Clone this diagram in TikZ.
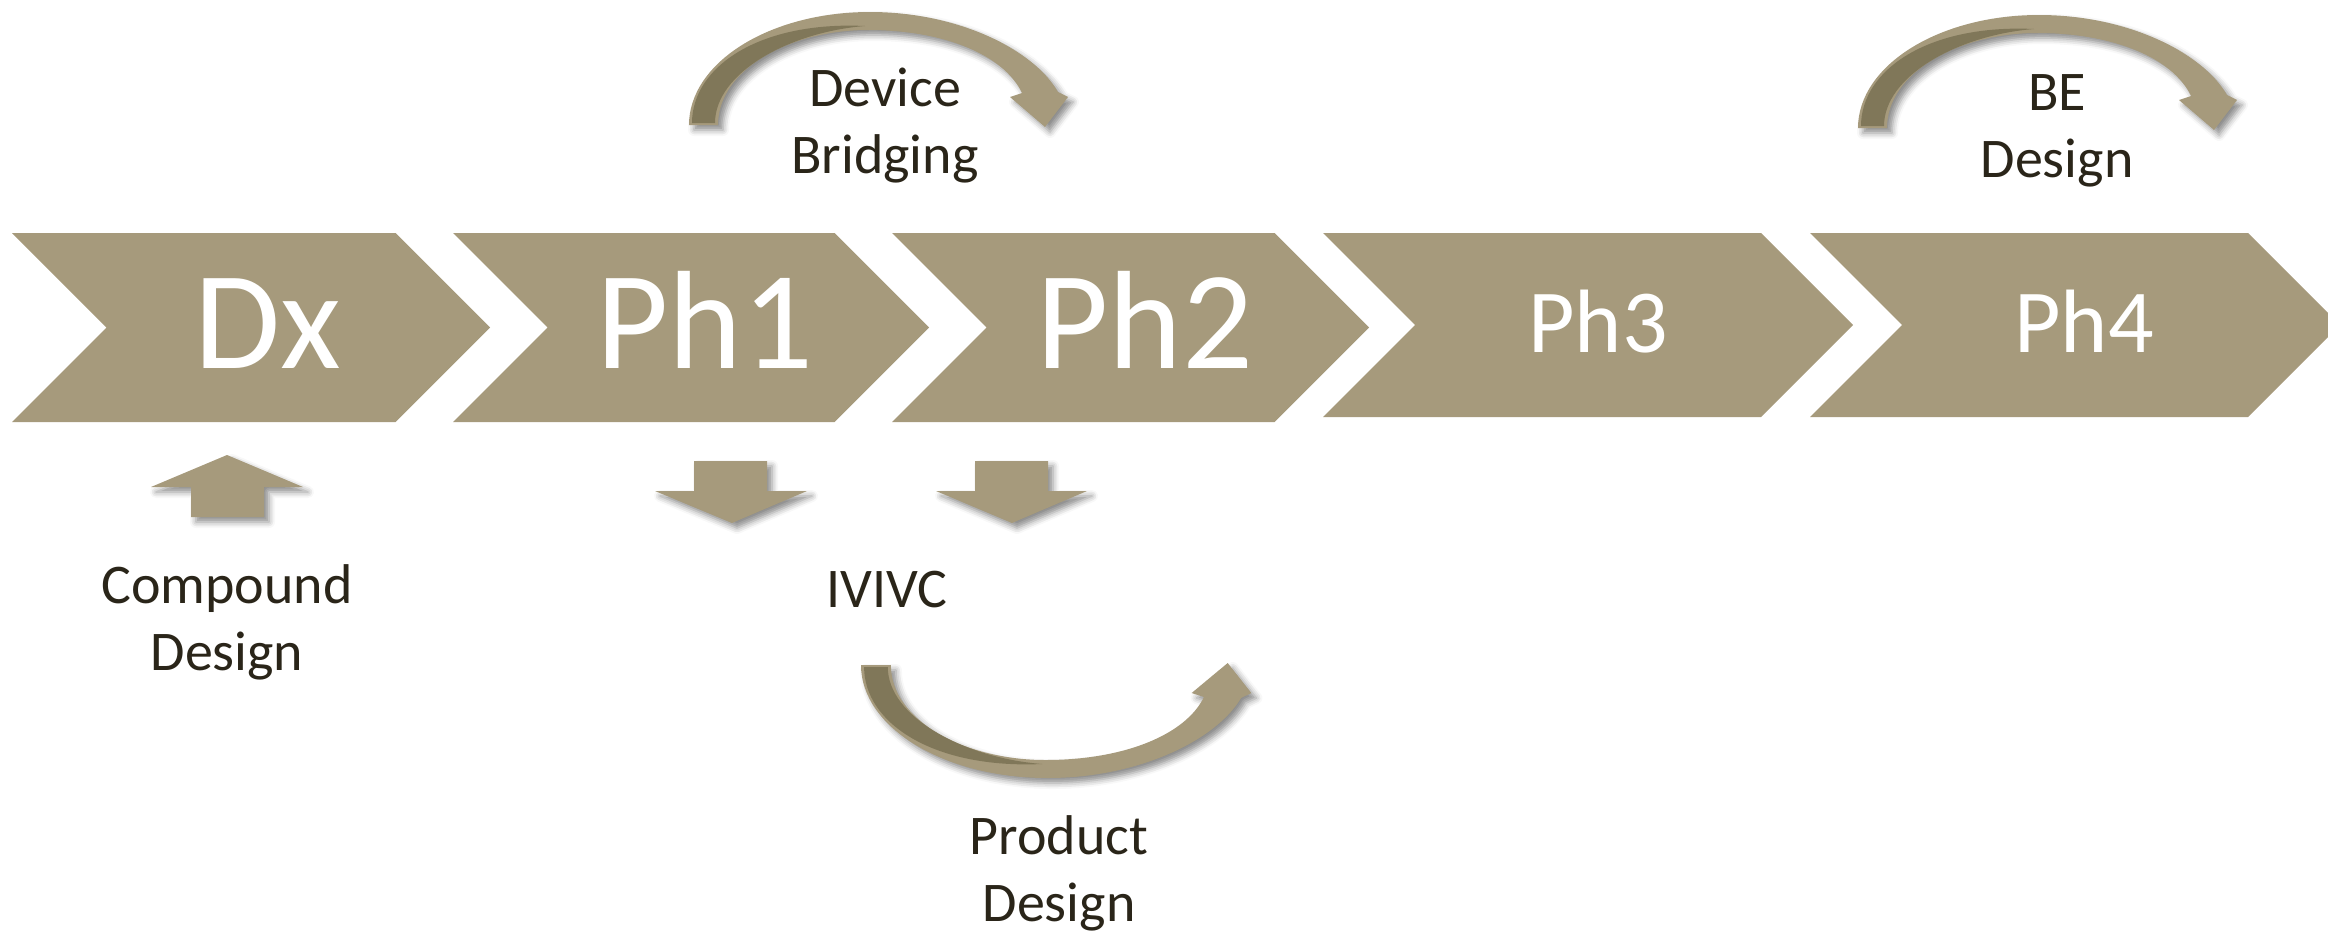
\documentclass[tikz,border=0pt]{standalone}
\usepackage{fontspec}
\setmainfont{Carlito}
\usetikzlibrary{shadows.blur}

\definecolor{tan}{HTML}{A69A7C}
\definecolor{tandark}{HTML}{807759}
\definecolor{ink}{HTML}{2A2519}

\tikzset{
  stagebox/.style={fill=tan, draw=none},
  stagetext/.style={text=white, anchor=base, inner sep=0pt},
  bigstage/.style={stagetext, font=\fontsize{70}{70}\selectfont},
  smallstage/.style={stagetext, font=\fontsize{45}{45}\selectfont},
  lbl/.style={text=ink, font=\fontsize{28}{33.5}\selectfont, align=center, anchor=base, inner sep=0pt},
  softshadow/.style={blur shadow={shadow xshift=2.5pt, shadow yshift=-2.5pt,
      shadow blur radius=3pt, shadow opacity=45}},
  blockarrow/.style={fill=tan, draw=none, softshadow},
  bandlight/.style={fill=tan, draw=none, softshadow},
  banddark/.style={fill=tandark, draw=none},
}

% chevron: left x, top y, bottom y, slant depth, total width
\newcommand\stagechevron[5]{%
  \path[stagebox] (#1,#2) -- ({#1+#5-#4},#2) -- ({#1+#5},{(#2+#3)/2})
    -- ({#1+#5-#4},#3) -- (#1,#3) -- ({#1+#4},{(#2+#3)/2}) -- cycle;}

% bent band arrow: tail x, tail y, vertical sense (1 = arcs upward, -1 = downward), x stretch
\newcommand\bendarrow[4]{%
  \begin{scope}[shift={(#1,#2)}, xscale=#4, yscale=#3]
    \coordinate (o0) at (0,0);
    \coordinate (oc1) at (0,-62);
    \coordinate (oc2) at (80,-113);
    \coordinate (otop) at (181,-113);
    \coordinate (oc3) at (270,-113);
    \coordinate (oc4) at (345,-75);
    \coordinate (oneck) at (369,-33);
    \coordinate (hr) at (379,-28);
    \coordinate (tip) at (356,2);
    \coordinate (hl) at (321,-28);
    \coordinate (ineck) at (333,-32);
    \coordinate (ic1) at (315,-70);
    \coordinate (ic2) at (255,-95);
    \coordinate (itop) at (179,-95);
    \coordinate (ic3) at (100,-95);
    \coordinate (ic4) at (29,-55);
    \coordinate (i0) at (29,0);
    \coordinate (d0) at (3,-2);
    \coordinate (dc1) at (3,-58);
    \coordinate (dc2) at (70,-104);
    \coordinate (dtop) at (176,-99);
    \coordinate (dc3) at (100,-93);
    \coordinate (dc4) at (26,-52);
    \coordinate (d1) at (26,-2);
  \end{scope}
  \path[bandlight] (o0) .. controls (oc1) and (oc2) .. (otop)
    .. controls (oc3) and (oc4) .. (oneck) -- (hr) -- (tip) -- (hl) -- (ineck)
    .. controls (ic1) and (ic2) .. (itop) .. controls (ic3) and (ic4) .. (i0) -- cycle;
  \path[banddark] (d0) .. controls (dc1) and (dc2) .. (dtop)
    .. controls (dc3) and (dc4) .. (d1) -- cycle;}

\begin{document}
\begin{tikzpicture}[x=0.5pt, y=-0.5pt]
  \useasboundingbox (0,0) rectangle (2328,932);
  \clip (0,0) rectangle (2328,932);

  % phase chevrons
  \stagechevron{12}{233}{422}{94.5}{478}
  \stagechevron{453}{233}{422}{94.5}{476}
  \stagechevron{892}{233}{422}{94.5}{477}
  \stagechevron{1323}{233}{417}{92}{530}
  \stagechevron{1810}{233}{417}{92}{530}

  \node[bigstage] (dx) at (268,368) {Dx};
  \node[bigstage] (ph1) at (705,368) {Ph1};
  \node[bigstage] (ph2) at (1145,368) {Ph2};
  \node[smallstage] (ph3) at (1598,352) {Ph3};
  \node[smallstage] (ph4) at (2084,352) {Ph4};

  % block arrows
  \path[blockarrow] (227,455) -- (303,487) -- (264,487) -- (264,517)
    -- (191,517) -- (191,487) -- (151,487) -- cycle;
  \path[blockarrow] (694,461) -- (767,461) -- (767,491) -- (807,491)
    -- (732,523) -- (655,491) -- (694,491) -- cycle;
  \path[blockarrow] (975,461) -- (1048,461) -- (1048,491) -- (1087,491)
    -- (1012,523) -- (936,491) -- (975,491) -- cycle;

  % bent arrows
  \bendarrow{689}{125}{1}{1}
  \bendarrow{1858}{128}{1}{1}
  \bendarrow{861}{665}{-1}{1.03}

  % captions (anchored on the baseline of the last line)
  \node[lbl] (devbridge) at (885,173) {Device\\Bridging};
  \node[lbl] (bedesign) at (2057,177) {BE\\Design};
  \node[lbl] (compound) at (227,670) {Compound\\Design};
  \node[lbl] (ivivc) at (887,607) {IVIVC};
  \node[lbl] (product) at (1059,921) {Product\\Design};
\end{tikzpicture}
\end{document}
